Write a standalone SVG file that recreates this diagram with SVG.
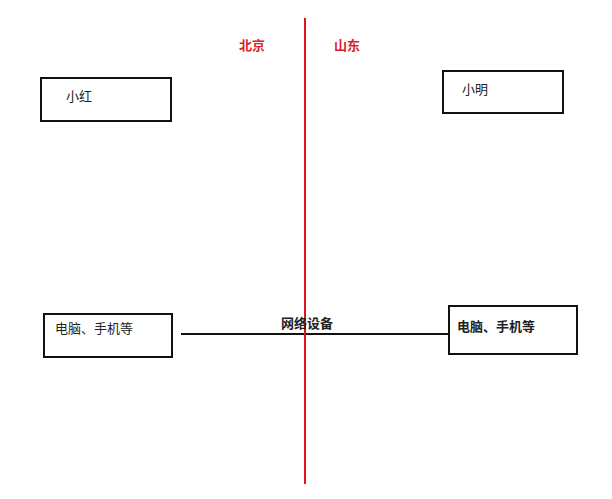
<svg xmlns="http://www.w3.org/2000/svg" width="612" height="499" viewBox="0 0 612 499">
<style>
.box{fill:#fff;stroke:#111;stroke-width:2}
.t{font-family:"Noto Sans CJK SC","Liberation Sans",sans-serif;font-size:13px;fill:#222}
.b{font-weight:bold}
.red{fill:#d9202a;font-weight:bold}
</style>
<rect width="612" height="499" fill="#fff"/>
<g id="connectors">
<line x1="181" y1="334" x2="449" y2="334" stroke="#111" stroke-width="2"/>
<line x1="305" y1="18" x2="305" y2="484" stroke="#e0141e" stroke-width="2"/>
</g>
<g id="labels">
<text class="t red" x="252" y="50" text-anchor="middle">北京</text>
<text class="t red" x="347" y="50" text-anchor="middle">山东</text>
<text class="t b" x="307" y="328" text-anchor="middle">网络设备</text>
</g>
<g id="xiaohong">
<rect class="box" x="41" y="78" width="130" height="43"/>
<text class="t" x="66" y="101">小红</text>
</g>
<g id="xiaoming">
<rect class="box" x="443" y="71" width="120" height="42"/>
<text class="t" x="462" y="94">小明</text>
</g>
<g id="device-left">
<rect class="box" x="44" y="314" width="128" height="43"/>
<text class="t" x="55" y="333">电脑、手机等</text>
</g>
<g id="device-right">
<rect class="box" x="449" y="306" width="128" height="48"/>
<text class="t b" x="457" y="331">电脑、手机等</text>
</g>
</svg>
